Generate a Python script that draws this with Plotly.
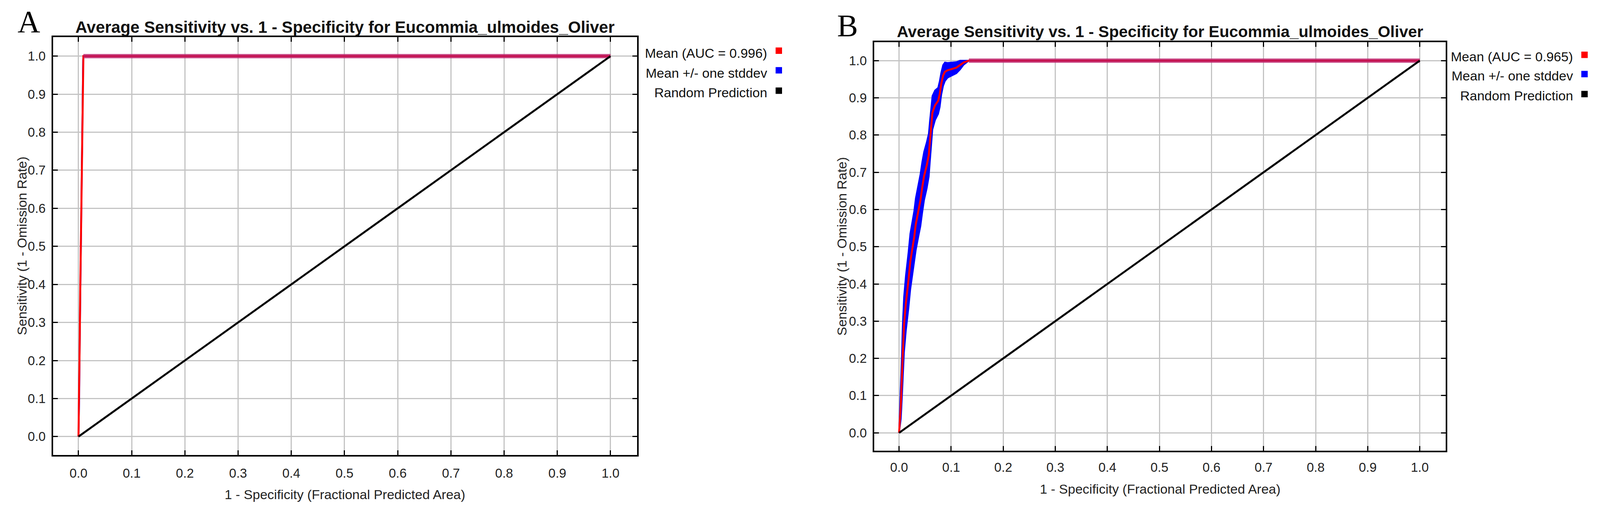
import plotly.graph_objects as go
import numpy as np

# target picture size (device px) and an observed render scale correction
W, H = 4216, 1334
SCALE = 1.035
FIG_W, FIG_H = round(W / SCALE), round(H / SCALE)

# ---------------- data ----------------
# Panel A
A_fpr = [0, 0.0007, 0.0015, 0.0024, 0.0033, 0.0043, 0.0055, 0.0067, 0.0077, 0.0086, 0.0092, 1.0]
A_tpr = [0, 0.06, 0.127, 0.26, 0.38, 0.50, 0.63, 0.76, 0.876, 0.97, 1.0, 1.0]
A_sd = [0, 0.02, 0.03, 0.03, 0.03, 0.03, 0.03, 0.03, 0.03, 0.02, 0, 0]
A_auc = 0.996

# Panel B
B_fpr = [0, 0.0034, 0.0053, 0.007, 0.0094, 0.013, 0.0155, 0.018, 0.0215, 0.025, 0.029,
         0.032, 0.037, 0.041, 0.0445, 0.048, 0.053, 0.057, 0.059, 0.0615, 0.064, 0.069,
         0.075, 0.078, 0.081, 0.0845, 0.088, 0.093, 0.10, 0.11, 0.117, 0.124, 0.134, 1.0]
B_tpr = [0, 0.078, 0.149, 0.22, 0.29, 0.348, 0.376, 0.41, 0.46, 0.49, 0.526,
         0.56, 0.597, 0.625, 0.66, 0.69, 0.718, 0.746, 0.78, 0.824, 0.86, 0.88,
         0.892, 0.91, 0.938, 0.96, 0.97, 0.974, 0.977, 0.981, 0.988, 0.995, 1.0, 1.0]
B_sd = [0, 0.04, 0.06, 0.07, 0.075, 0.075, 0.075, 0.075, 0.075, 0.072, 0.07,
        0.07, 0.07, 0.07, 0.068, 0.065, 0.062, 0.058, 0.055, 0.05, 0.045, 0.04,
        0.035, 0.035, 0.03, 0.028, 0.025, 0.02, 0.018, 0.015, 0.012, 0.006, 0, 0]
B_auc = 0.965

rand_x = [0, 1]
rand_y = [0, 1]

tick_vals = [0, 0.1, 0.2, 0.3, 0.4, 0.5, 0.6, 0.7, 0.8, 0.9, 1.0]
tick_text = ["0.0", "0.1", "0.2", "0.3", "0.4", "0.5", "0.6", "0.7", "0.8", "0.9", "1.0"]

title_text = "Average Sensitivity vs. 1 - Specificity for Eucommia_ulmoides_Oliver"
xlab = "1 - Specificity (Fractional Predicted Area)"
ylab = "Sensitivity (1 - Omission Rate)"
legend_labels = ["Mean (AUC = {:.3f})", "Mean +/- one stddev", "Random Prediction"]
legend_colors = ["#FF0000", "#0000FF", "#000000"]
panel_labels = ["A", "B"]


def px(x):
    return x / W


def py(y):
    return 1 - y / H


fig = go.Figure()

panels = [
    dict(fpr=A_fpr, tpr=A_tpr, sd=A_sd, auc=A_auc, xa="x", ya="y",
         left=132, right=1680, top=90, bottom=1197, xstand=15,
         title_y=64, title_size=42, lab_x=68, lab_y=50,
         xlab_y=1302, ylab_x=49, leg_right=2027, sq_x0=2047,
         leg_rows=[132, 185, 237], sq_rows=[126, 178, 232]),
    dict(fpr=B_fpr, tpr=B_tpr, sd=B_sd, auc=B_auc, xa="x2", ya="y2",
         left=2308, right=3823, top=103, bottom=1186, xstand=10,
         title_y=76, title_size=41, lab_x=2237, lab_y=60,
         xlab_y=1287, ylab_x=2222, leg_right=4162, sq_x0=4182,
         leg_rows=[142, 193, 245], sq_rows=[137, 188, 241]),
]

annotations = []
shapes = []

for i, p in enumerate(panels):
    fpr = np.array(p["fpr"], dtype=float)
    tpr = np.array(p["tpr"], dtype=float)
    sd = np.array(p["sd"], dtype=float)
    upper = np.clip(tpr + sd, 0, 1)
    lower = np.clip(tpr - sd, 0, 1)
    xa, ya = p["xa"], p["ya"]

    # stddev band
    fig.add_trace(go.Scatter(x=fpr, y=lower, mode="lines", xaxis=xa, yaxis=ya,
                             line=dict(color="#0000FF", width=4), showlegend=False,
                             hoverinfo="skip"))
    fig.add_trace(go.Scatter(x=fpr, y=upper, mode="lines", xaxis=xa, yaxis=ya,
                             fill="tonexty", fillcolor="#0000FF",
                             line=dict(color="#0000FF", width=4), showlegend=False,
                             hoverinfo="skip"))
    # mean line
    fig.add_trace(go.Scatter(x=fpr, y=tpr, mode="lines", xaxis=xa, yaxis=ya,
                             line=dict(color="#FF0000", width=5), showlegend=False,
                             hoverinfo="skip"))
    # plateau where mean == 1 and sd == 0 (overlap of mean and band)
    mask = (tpr >= 1.0) & (sd == 0)
    fig.add_trace(go.Scatter(x=fpr[mask], y=tpr[mask], mode="lines", xaxis=xa, yaxis=ya,
                             line=dict(color="rgba(192,45,115,0.85)", width=11),
                             showlegend=False, hoverinfo="skip"))
    fig.add_trace(go.Scatter(x=fpr[mask], y=tpr[mask], mode="lines", xaxis=xa, yaxis=ya,
                             line=dict(color="#C4104E", width=4),
                             showlegend=False, hoverinfo="skip"))
    # random prediction
    fig.add_trace(go.Scatter(x=rand_x, y=rand_y, mode="lines", xaxis=xa, yaxis=ya,
                             line=dict(color="#000000", width=5), showlegend=False,
                             hoverinfo="skip"))

    ax_common = dict(range=[-0.048, 1.05], tickvals=tick_vals, ticktext=tick_text,
                     ticks="inside", ticklen=12, tickwidth=3, tickcolor="black",
                     showline=True, linecolor="black", linewidth=4, mirror="allticks",
                     showgrid=True, gridcolor="#C4C4C4", gridwidth=3, zeroline=False,
                     tickfont=dict(family="Liberation Sans, Arial", size=33, color="#222222"),
                     fixedrange=True)
    xkey = "xaxis" if xa == "x" else "xaxis2"
    ykey = "yaxis" if ya == "y" else "yaxis2"
    fig.update_layout(**{
        xkey: dict(ax_common, domain=[px(p["left"]), px(p["right"])], anchor=ya,
                   ticklabelstandoff=p["xstand"]),
        ykey: dict(ax_common, domain=[py(p["bottom"]), py(p["top"])], anchor=xa,
                   ticklabelstandoff=8),
    })

    cx = (p["left"] + p["right"]) / 2
    # title
    annotations.append(dict(text="<b>" + title_text + "</b>", x=px(cx), y=py(p["title_y"]),
                            xref="paper", yref="paper", showarrow=False,
                            xanchor="center", yanchor="middle",
                            font=dict(family="Liberation Sans, Arial", size=p["title_size"],
                                      color="#111111")))
    # panel label
    annotations.append(dict(text=panel_labels[i], x=px(p["lab_x"]), y=py(p["lab_y"]),
                            xref="paper", yref="paper", showarrow=False,
                            xanchor="center", yanchor="middle",
                            font=dict(family="Liberation Serif, Times New Roman", size=80,
                                      color="#000000")))
    # axis titles
    annotations.append(dict(text=xlab, x=px(cx), y=py(p["xlab_y"]), xref="paper", yref="paper",
                            showarrow=False, xanchor="center", yanchor="middle",
                            font=dict(family="Liberation Sans, Arial", size=34, color="#222222")))
    annotations.append(dict(text=ylab, x=px(p["ylab_x"]), y=py((p["top"] + p["bottom"]) / 2),
                            xref="paper", yref="paper", showarrow=False, textangle=-90,
                            xanchor="center", yanchor="middle",
                            font=dict(family="Liberation Sans, Arial", size=34, color="#222222")))
    # legend
    for j, lab in enumerate(legend_labels):
        txt = lab.format(p["auc"]) if j == 0 else lab
        annotations.append(dict(text=txt, x=px(p["leg_right"]), y=py(p["leg_rows"][j]),
                                xref="paper", yref="paper", showarrow=False,
                                xanchor="right", yanchor="middle",
                                font=dict(family="Liberation Sans, Arial", size=34,
                                          color="#111111")))
        yc = p["sq_rows"][j]
        shapes.append(dict(type="rect", xref="paper", yref="paper",
                           x0=px(p["sq_x0"]), x1=px(p["sq_x0"] + 17),
                           y0=py(yc + 8.5), y1=py(yc - 8.5),
                           fillcolor=legend_colors[j], line=dict(width=0)))

fig.update_layout(width=FIG_W, height=FIG_H, margin=dict(l=0, r=0, t=0, b=0),
                  paper_bgcolor="white", plot_bgcolor="white",
                  annotations=annotations, shapes=shapes, showlegend=False)

fig.write_html("out.html")
